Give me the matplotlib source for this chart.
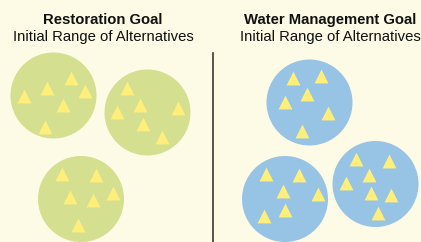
import matplotlib.pyplot as plt
from matplotlib.patches import Circle

# circle centres (pixel space of the 421x242 picture) and triangle positions
green_cx = [53.5, 147.5, 81]
green_cy = [95.5, 112.5, 199]
green_tri_x = [[71, 47, 24, 85, 63, 45],
               [127, 140, 117, 178, 143, 162],
               [62, 96, 70, 93, 113, 78]]
green_tri_y = [[78, 88, 96, 91, 105, 127],
               [88, 105, 112, 108, 124, 137],
               [174, 175, 197, 200, 193, 225]]

blue_cx = [309.5, 285, 375.5]
blue_cy = [102.5, 199, 184]
blue_tri_x = [[293, 321, 307, 285, 328, 302],
              [266, 299, 283, 318, 285, 264],
              [356, 389, 369, 346, 371, 391, 378]]
blue_tri_y = [[78, 76, 94, 102, 113, 131],
              [174, 175, 191, 194, 210, 216],
              [159, 161, 175, 183, 193, 195, 213]]

titles = ["Restoration Goal", "Water Management Goal"]
subtitles = ["Initial Range of Alternatives", "Initial Range of Alternatives"]
title_x = [103, 330]

radius = 43
bg = "#fdfbe6"
green = "#d4df8f"
blue = "#97c3e5"
yellow = "#ffee7a"


def main():
    plt.rcParams['font.family'] = ['Liberation Sans', 'DejaVu Sans']
    fig = plt.figure(figsize=(4.21, 2.42), dpi=100, facecolor=bg)
    ax = fig.add_axes([0, 0, 1, 1])
    ax.set_facecolor(bg)
    ax.set_xlim(0, 421)
    ax.set_ylim(242, 0)
    ax.axis('off')

    for cx, cy in zip(green_cx, green_cy):
        ax.add_patch(Circle((cx, cy), radius, facecolor=green, edgecolor='none'))
    for cx, cy in zip(blue_cx, blue_cy):
        ax.add_patch(Circle((cx, cy), radius, facecolor=blue, edgecolor='none'))

    for xs, ys in zip(green_tri_x + blue_tri_x, green_tri_y + blue_tri_y):
        ax.scatter(xs, ys, marker='^', s=100, color=yellow, linewidths=0, zorder=3)

    # divider
    ax.plot([213, 213], [53, 242], color='#3a382e', lw=1.2)

    for x, t, st in zip(title_x, titles, subtitles):
        ax.text(x, 20, t, ha='center', va='center', fontsize=10.7,
                fontweight='bold', color='#111111')
        ax.text(x, 37, st, ha='center', va='center', fontsize=10.7,
                color='#111111')

    fig.savefig('out.png', dpi=100, facecolor=bg)


if __name__ == "__main__":
    main()
